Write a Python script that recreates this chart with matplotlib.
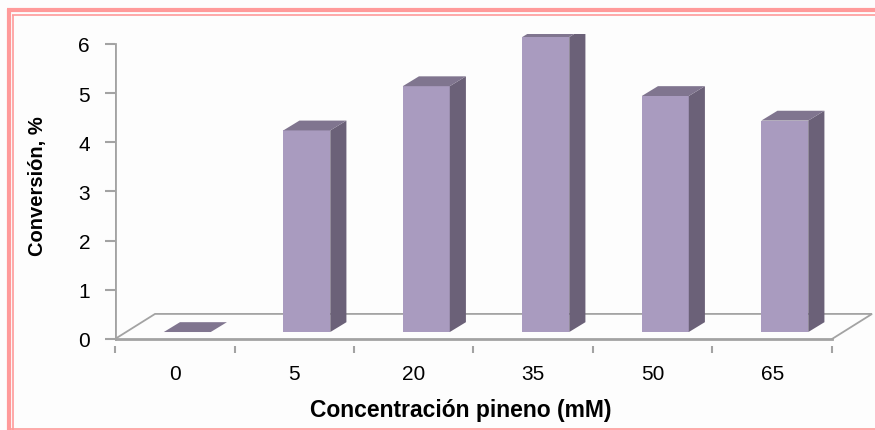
import matplotlib
matplotlib.use("Agg")
import matplotlib.pyplot as plt
from matplotlib.patches import Polygon
from matplotlib.lines import Line2D

# Data
categories = ["0", "5", "20", "35", "50", "65"]
conversion = [0.0, 4.1, 5.0, 6.0, 4.8, 4.3]
y_ticks = [0, 1, 2, 3, 4, 5, 6]
x_label = "Concentración pineno (mM)"
y_label = "Conversión, %"

# Styling
FRONT = "#a99bbf"
SIDE = "#6b6178"
TOP = "#80758f"
AXIS = "#a3a3a3"
PINK = "#ff9a9a"
FONT = ["Liberation Sans", "DejaVu Sans"]

# Pseudo-3D geometry (in data units)
floor_dx, floor_dy = 0.335, 0.51   # depth of the floor
bar_dx, bar_dy = 0.105, 0.142      # bars sit mid-depth on the floor
depth_dx, depth_dy = 0.135, 0.2    # thickness of each bar
bar_w = 0.393

W, H = 875, 431
fig = plt.figure(figsize=(W / 100, H / 100), dpi=100)
fig.patch.set_facecolor("#fdfdfd")

# Pink double frame
def frame_line(xs, ys, lw):
    fig.add_artist(Line2D(xs, ys, transform=fig.transFigure, color=PINK, lw=lw,
                          solid_capstyle="butt"))

frame_line([8.5 / W, 8.5 / W], [0, 1 - 9.5 / H], 3.0)
frame_line([12.5 / W, 12.5 / W], [0, 1 - 15.5 / H], 1.2)
frame_line([7 / W, 1], [1 - 11 / H, 1 - 11 / H], 3.0)
frame_line([12 / W, 1], [1 - 16 / H, 1 - 16 / H], 1.2)
frame_line([7 / W, 1], [1.5 / H, 1.5 / H], 1.2)

# Axes placement: x -0.5 -> 115 px, per-category 119.5 px; y 0 -> 340 px, 49.17 px/unit
x0, x1 = -0.5, 5.84
y0, y1 = -0.15, 6.2
px_cat, px_val = 119.5, 49.17
left = 115 / W
width = (x1 - x0) * px_cat / W
bottom_px = 340 + (0 - y0) * px_val
top_px = 340 - y1 * px_val
ax = fig.add_axes([left, 1 - bottom_px / H, width, (bottom_px - top_px) / H])
ax.set_xlim(x0, x1)
ax.set_ylim(y0, y1)
ax.patch.set_alpha(0)
for s in ax.spines.values():
    s.set_visible(False)

n = len(categories)
xs = list(range(n))

# Floor outline
xl, xr = -0.5, n - 0.5
ax.plot([xl, xl + floor_dx, xr + floor_dx, xr], [0, floor_dy, floor_dy, 0],
        color=AXIS, lw=1.3, zorder=1, solid_joinstyle="miter")
ax.plot([xl, xr], [0, 0], color=AXIS, lw=2.0, zorder=1)
# Vertical value axis
ax.plot([xl, xl], [0, 6], color=AXIS, lw=2.0, zorder=1)

# Bars: front face via ax.bar, side and top faces as polygons
centers = [x + bar_dx for x in xs]
ax.bar(centers, conversion, width=bar_w, bottom=bar_dy, color=FRONT,
       edgecolor="none", zorder=3)
for c, v in zip(centers, conversion):
    l, r = c - bar_w / 2, c + bar_w / 2
    b, t = bar_dy, bar_dy + v
    if v > 0:
        ax.add_patch(Polygon([(r, b), (r + depth_dx, b + depth_dy),
                              (r + depth_dx, t + depth_dy), (r, t)],
                             closed=True, facecolor=SIDE, edgecolor="none", zorder=3))
    ax.add_patch(Polygon([(l, t), (l + depth_dx, t + depth_dy),
                          (r + depth_dx, t + depth_dy), (r, t)],
                         closed=True, facecolor=TOP, edgecolor="none", zorder=3))

# Ticks
ax.set_yticks(y_ticks)
ax.set_yticklabels([str(t) for t in y_ticks], fontsize=15, family=FONT)
ax.tick_params(axis="y", direction="out", length=7, width=1.5, color=AXIS, pad=11)
ax.set_xticks([x - 0.5 for x in range(n + 1)], minor=True)
ax.set_xticks(xs)
ax.set_xticklabels(categories, fontsize=15, family=FONT)
ax.tick_params(axis="x", which="major", length=0, pad=13)
ax.tick_params(axis="x", which="minor", direction="out", length=5, width=1.5, color=AXIS)

# Axis titles
fig.text(37 / W, 1 - 186 / H, y_label, rotation=90, ha="center", va="center",
         fontsize=14.5, fontweight="bold", family=FONT)
fig.text(461 / W, 1 - 411 / H, x_label, ha="center", va="center",
         fontsize=16.5, fontweight="bold", family=FONT)

fig.savefig("out.png", dpi=100, facecolor=fig.get_facecolor())
